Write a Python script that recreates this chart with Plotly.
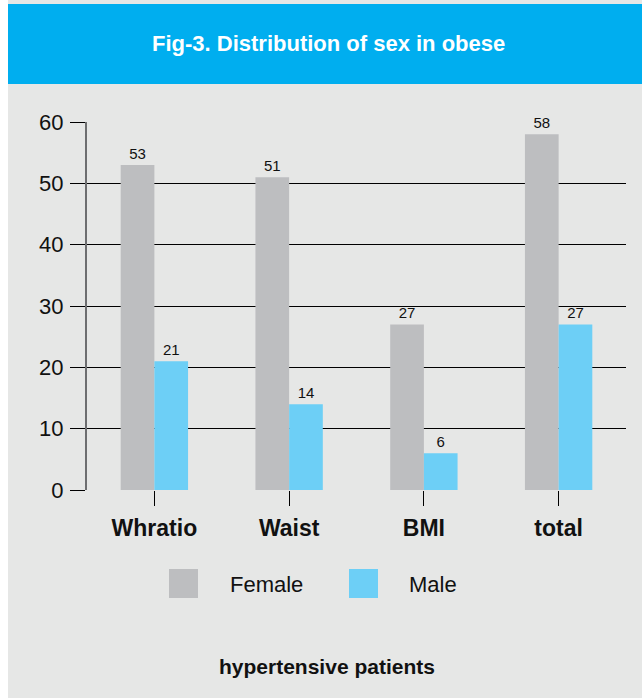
import plotly.graph_objects as go

# Data
categories = ["Whratio", "Waist", "BMI", "total"]
female = [53, 51, 27, 58]
male = [21, 14, 6, 27]
series_names = ["Female", "Male"]
y_ticks = [0, 10, 20, 30, 40, 50, 60]

title_text = "Fig-3. Distribution of sex in obese"
footer_text = "hypertensive patients"

# Styling
W, H = 642, 698
PLOT_L, PLOT_R, PLOT_T, PLOT_B = 87, 626, 122, 490
BG_GRAY = "#e6e7e6"
HEADER_BLUE = "#00aeef"
FEMALE_COLOR = "#bdbec0"
MALE_COLOR = "#6dcff6"
FONT = "Liberation Sans, Arial, Helvetica, sans-serif"


def px_x(px):
    return (px - PLOT_L) / (PLOT_R - PLOT_L)


def px_y(py):
    return (PLOT_B - py) / (PLOT_B - PLOT_T)


fig = go.Figure()
for name, vals, color in [(series_names[0], female, FEMALE_COLOR),
                          (series_names[1], male, MALE_COLOR)]:
    fig.add_trace(go.Bar(
        x=categories, y=vals, name=name,
        marker=dict(color=color, line=dict(color=color, width=0)),
        text=vals, textposition="outside", cliponaxis=False,
        textfont=dict(family=FONT, size=15, color="#111111"),
        showlegend=False,
    ))

shapes = [
    # page background panel
    dict(type="rect", xref="paper", yref="paper", layer="below",
         x0=px_x(8), x1=px_x(W + 2), y0=px_y(H + 2), y1=px_y(0),
         fillcolor=BG_GRAY, line=dict(width=0)),
    # header band
    dict(type="rect", xref="paper", yref="paper", layer="below",
         x0=px_x(8), x1=px_x(W + 2), y0=px_y(84), y1=px_y(4),
         fillcolor=HEADER_BLUE, line=dict(width=0)),
]

annotations = [
    dict(text=f"<b>{title_text}</b>", xref="paper", yref="paper",
         x=px_x(328.5), y=px_y(43), xanchor="center", yanchor="middle",
         showarrow=False, font=dict(family=FONT, size=22, color="white")),
    dict(text=f"<b>{footer_text}</b>", xref="paper", yref="paper",
         x=px_x(326.5), y=px_y(666), xanchor="center", yanchor="middle",
         showarrow=False, font=dict(family=FONT, size=21, color="#111111")),
]

# Legend drawn as swatches + labels
legend_items = [(series_names[0], FEMALE_COLOR, 169, 228),
                (series_names[1], MALE_COLOR, 349, 407)]
for name, color, sx, tx in legend_items:
    shapes.append(dict(type="rect", xref="paper", yref="paper",
                       x0=px_x(sx), x1=px_x(sx + 29),
                       y0=px_y(598), y1=px_y(569),
                       fillcolor=color, line=dict(width=0)))
    annotations.append(dict(text=name, xref="paper", yref="paper",
                            x=px_x(tx), y=px_y(584), xanchor="left",
                            yanchor="middle", showarrow=False,
                            font=dict(family=FONT, size=22, color="#111111")))

fig.update_layout(
    width=W, height=H,
    margin=dict(l=PLOT_L, r=W - PLOT_R, t=PLOT_T, b=H - PLOT_B, pad=0),
    paper_bgcolor="white", plot_bgcolor="rgba(0,0,0,0)",
    barmode="group", bargap=0.5, bargroupgap=0,
    shapes=shapes, annotations=annotations,
    showlegend=False,
    font=dict(family=FONT, color="#111111"),
    xaxis=dict(
        type="category", showgrid=False, zeroline=False, showline=False,
        ticks="outside", ticklen=15, tickcolor="black", tickwidth=1,
        tickfont=dict(family=FONT, size=23, color="#111111"),
        tickprefix="<b>", ticksuffix="</b>", ticklabelstandoff=2,
    ),
    yaxis=dict(
        range=[0, 60], tickvals=y_ticks, showgrid=True, gridcolor="black",
        gridwidth=1, zeroline=False, showline=True, linecolor="#6d6e70",
        linewidth=2, ticks="outside", ticklen=15, tickcolor="black",
        tickwidth=1, tickfont=dict(family=FONT, size=22, color="#111111"),
        ticklabelstandoff=2,
    ),
)

fig.write_html("out.html")
